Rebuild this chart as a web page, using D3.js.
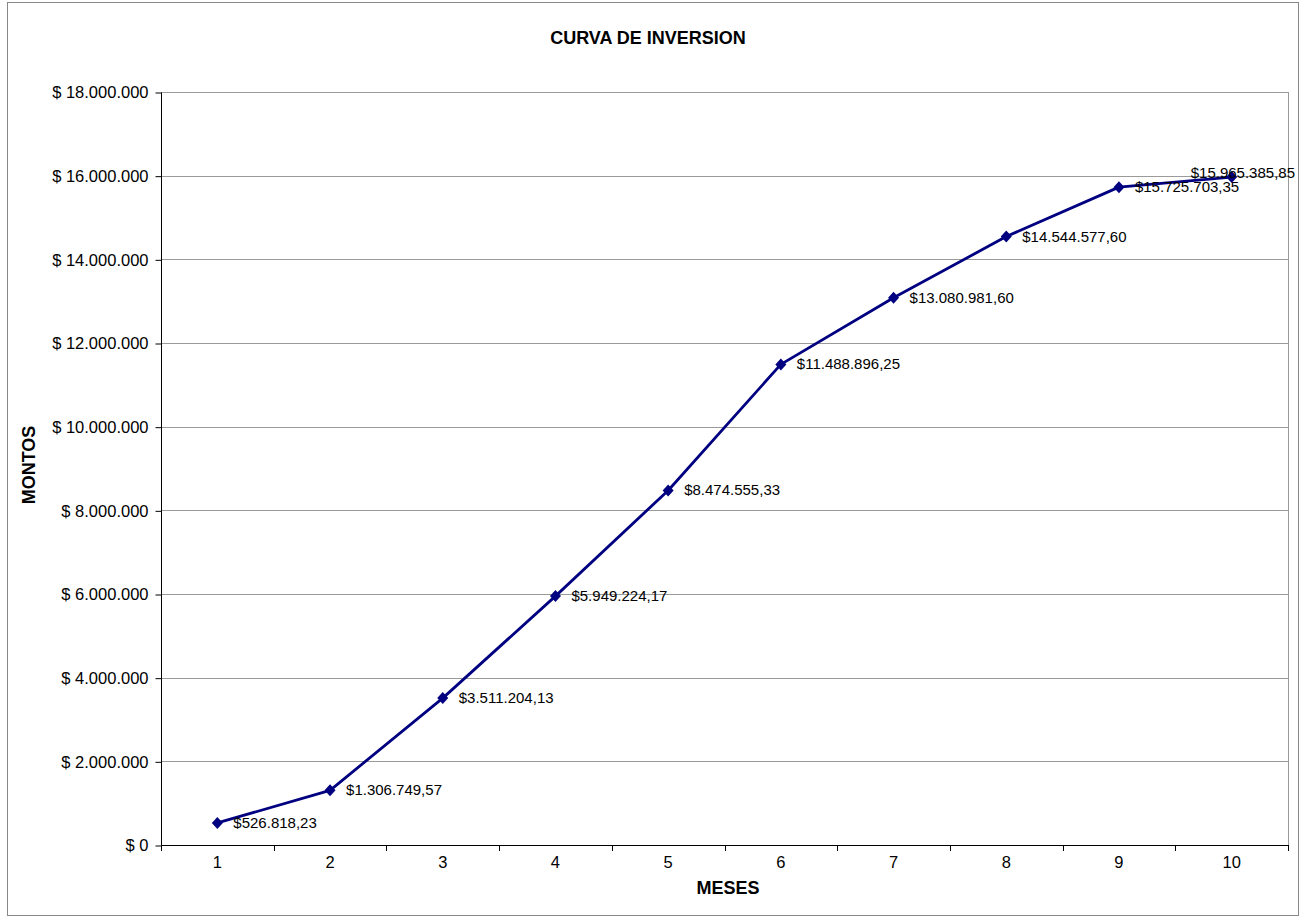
<!DOCTYPE html>
<html><head><meta charset="utf-8">
<script src="https://cdn.jsdelivr.net/npm/d3@7"></script>
<style>body{margin:0;background:#fff}svg{display:block;font-family:Arial,"Liberation Sans",sans-serif}</style>
</head><body><svg id="c" width="1308" height="921"></svg>
<script>
const meses = ["1","2","3","4","5","6","7","8","9","10"];
const montos = [526818.23,1306749.57,3511204.13,5949224.17,8474555.33,11488896.25,13080981.60,14544577.60,15725703.35,15965385.85];
const etiquetas = ["$526.818,23","$1.306.749,57","$3.511.204,13","$5.949.224,17","$8.474.555,33","$11.488.896,25","$13.080.981,60","$14.544.577,60","$15.725.703,35","$15.965.385,85"];
const yTicks = [0,2000000,4000000,6000000,8000000,10000000,12000000,14000000,16000000,18000000];

const svg = d3.select("#c");
const m = {l:161, r:1288, t:92, b:845};
svg.append("rect").attr("x",7.5).attr("y",2.5).attr("width",1291).attr("height",913).attr("fill","#fff").attr("stroke","#888").attr("stroke-width",1);

const x = d3.scaleBand().domain(meses).range([m.l,m.r]);
const y = d3.scaleLinear().domain([0,18000000]).range([m.b,m.t]);

svg.append("g").selectAll("line").data(yTicks.slice(1)).join("line")
 .attr("x1",m.l).attr("x2",m.r).attr("y1",d=>Math.round(y(d))+0.5).attr("y2",d=>Math.round(y(d))+0.5)
 .attr("stroke","#9a9a9a").attr("stroke-width",1);
svg.append("line").attr("x1",m.r+0.5).attr("x2",m.r+0.5).attr("y1",m.t).attr("y2",m.b).attr("stroke","#9a9a9a");

const fmt = d => "$ " + d3.format(",")(d).replace(/,/g,".");
const ya = svg.append("g").attr("transform",`translate(${m.l+0.5},0.5)`)
 .call(d3.axisLeft(y).tickValues(yTicks).tickFormat(fmt).tickSize(6).tickPadding(7));
ya.select(".domain").attr("stroke","#000").attr("d",`M-0,${m.t}V${m.b}`);
ya.selectAll("text").attr("font-size",16.5).attr("fill","#000").attr("font-family","Arial,'Liberation Sans',sans-serif");
ya.selectAll(".tick line").attr("stroke","#000");

const xa = svg.append("g").attr("transform",`translate(0,${m.b+0.5})`)
 .call(d3.axisBottom(x).tickSize(0).tickPadding(11));
xa.select(".domain").attr("stroke","#000").attr("d",`M${m.l},0H${m.r}`);
xa.selectAll("text").attr("font-size",16.5).attr("fill","#000").attr("font-family","Arial,'Liberation Sans',sans-serif");
svg.append("g").selectAll("line").data(d3.range(meses.length+1)).join("line")
 .attr("x1",i=>Math.round(m.l + i*x.step())+0.5).attr("x2",i=>Math.round(m.l + i*x.step())+0.5)
 .attr("y1",m.b).attr("y2",m.b+6).attr("stroke","#000");

const cx = d => x(d)+x.bandwidth()/2;
const pts = meses.map((d,i)=>[cx(d), y(montos[i])]);
svg.append("path").attr("d",d3.line()(pts)).attr("fill","none").attr("stroke","#000080").attr("stroke-width",2.8).attr("stroke-linejoin","round");
svg.append("g").selectAll("path").data(pts).join("path")
 .attr("transform",p=>`translate(${p[0]},${p[1]})`)
 .attr("d","M0,-6L5.5,0L0,6L-5.5,0Z")
 .attr("fill","#000080");

const labels = svg.append("g").selectAll("text").data(pts).join("text")
 .attr("x",p=>p[0]+16).attr("y",p=>p[1]+5)
 .attr("font-size",15).attr("fill","#000").text((p,i)=>etiquetas[i]);
// keep labels inside the chart frame (Excel shifts the last one left/up)
labels.each(function(p){
  const w = this.getComputedTextLength();
  const limit = 1295;
  if (p[0]+16+w > limit) {
    d3.select(this).attr("x", limit - w).attr("y", p[1]+1);
  }
});

svg.append("text").attr("x",648).attr("y",44).attr("text-anchor","middle").attr("font-size",18).attr("font-weight","bold").text("CURVA DE INVERSION");
svg.append("text").attr("x",728).attr("y",894).attr("text-anchor","middle").attr("font-size",18).attr("font-weight","bold").text("MESES");
svg.append("text").attr("transform",`translate(35,465) rotate(-90)`).attr("text-anchor","middle").attr("font-size",18).attr("font-weight","bold").text("MONTOS");
</script></body></html>
